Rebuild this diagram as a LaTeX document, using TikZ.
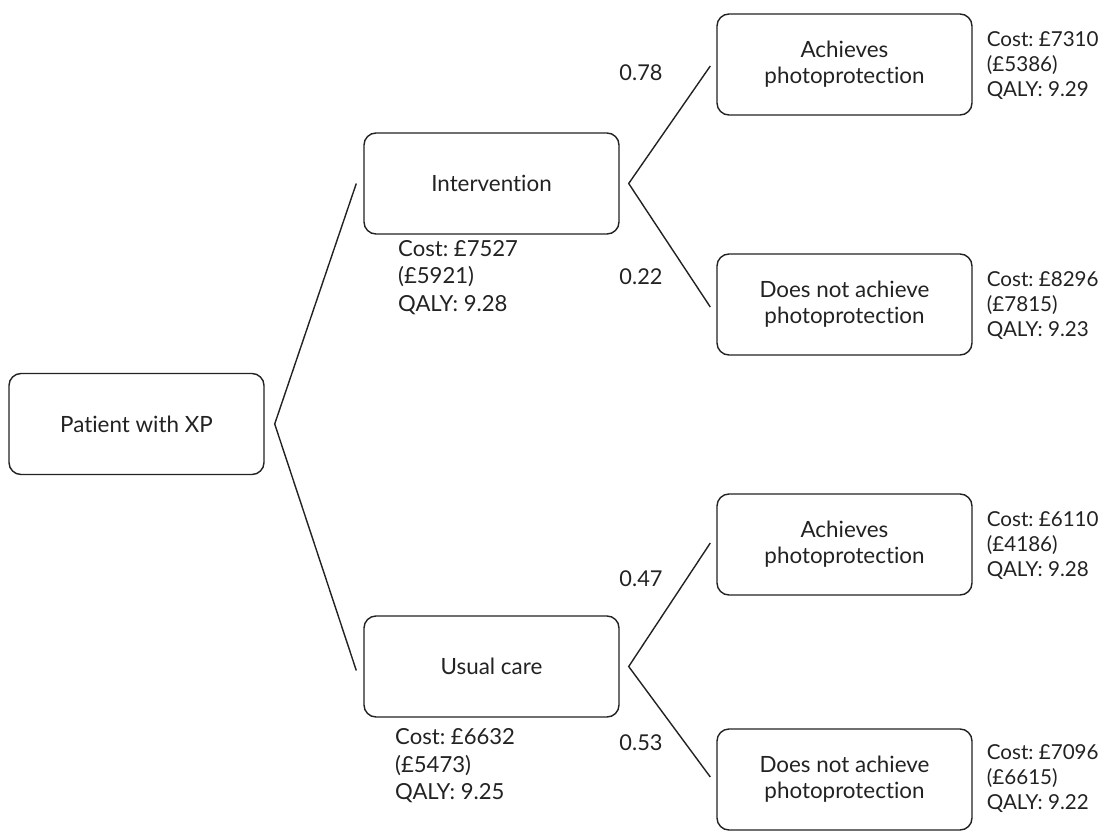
\documentclass[tikz,border=0pt]{standalone}
\usepackage{fontspec}
\setmainfont[Ligatures=NoCommon]{Lato}
\usetikzlibrary{calc}
\definecolor{ink}{HTML}{222222}
\frenchspacing
\begin{document}
\begin{tikzpicture}[x=1pt,y=-1pt,
  every node/.style={text=ink},
  box/.style={draw=ink,line width=1.4pt,rounded corners=12pt,minimum width=255pt,minimum height=101pt,align=center,inner sep=0pt,font=\fontsize{22.4}{26}\selectfont},
  rlab/.style={anchor=west,align=left,inner sep=0pt,font=\fontsize{20.6}{25}\selectfont},
  llab/.style={anchor=west,align=left,inner sep=0pt,font=\fontsize{22.1}{27.5}\selectfont},
  prob/.style={inner sep=0pt,font=\fontsize{21.8}{24}\selectfont},
  conn/.style={draw=ink,line width=1.4pt}]
\useasboundingbox (0,0) rectangle (1111,832);
\node[box] (patient) at (136.5,424) {Patient with XP};
\node[box] (interv) at (491.5,183.5) {Intervention};
\node[box] (usual) at (491.5,666.5) {Usual care};
\node[box] (a1) at (844.5,64.5) {Achieves\\photoprotection};
\node[box] (n1) at (844.5,304.5) {Does not achieve\\photoprotection};
\node[box] (a2) at (844.5,544.5) {Achieves\\photoprotection};
\node[box] (n2) at (844.5,779.5) {Does not achieve\\photoprotection};
% connectors
\draw[conn] ([xshift=-7pt]interv.west) -- ([xshift=10pt]patient.east) -- ([xshift=-7pt,yshift=-4pt]usual.west);
\draw[conn] ([xshift=-6pt,yshift=-1.5pt]a1.west) -- ([xshift=9pt]interv.east) -- ([xshift=-6pt,yshift=-2.5pt]n1.west);
\draw[conn] ([xshift=-6pt,yshift=1.5pt]a2.west) -- ([xshift=9pt]usual.east) -- ([xshift=-6pt,yshift=2.5pt]n2.west);
% probabilities
\node[prob] (p1) at (641,73) {0.78};
\node[prob] (p2) at (641,277) {0.22};
\node[prob] (p3) at (641,579) {0.47};
\node[prob] (p4) at (641,743) {0.53};
% payoffs
\node[rlab] (c1) at ($(a1.east)+(14,1.5)$) {Cost: £7310\\(£5386)\\QALY: 9.29};
\node[rlab] (c2) at ($(n1.east)+(14,1.5)$) {Cost: £8296\\(£7815)\\QALY: 9.23};
\node[rlab] (c3) at ($(a2.east)+(14,1.5)$) {Cost: £6110\\(£4186)\\QALY: 9.28};
\node[rlab] (c4) at ($(n2.east)+(14,-1)$) {Cost: £7096\\(£6615)\\QALY: 9.22};
\node[llab] (ci) at (398,277.5) {Cost: £7527\\(£5921)\\QALY: 9.28};
\node[llab] (cu) at (395,766) {Cost: £6632\\(£5473)\\QALY: 9.25};
\end{tikzpicture}
\end{document}
